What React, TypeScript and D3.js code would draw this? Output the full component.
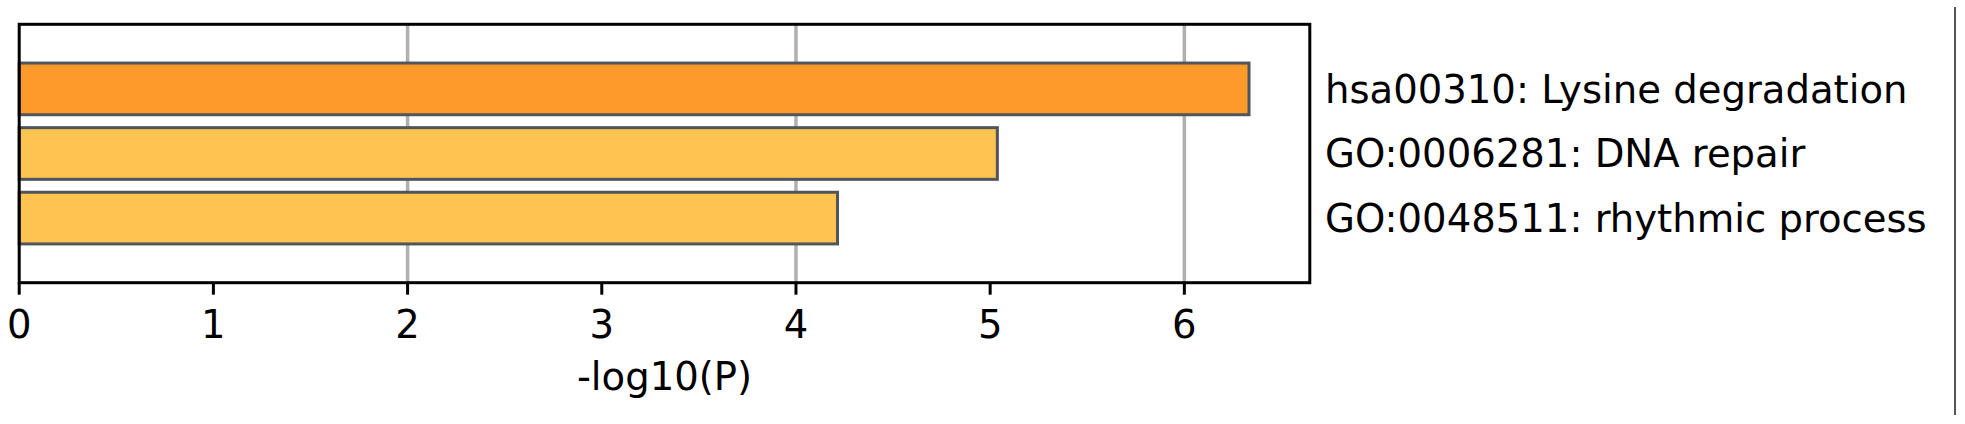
import React, { useEffect } from 'react'
import * as d3 from 'd3'

// terms, top to bottom
const terms = [
    'hsa00310: Lysine degradation',
    'GO:0006281: DNA repair',
    'GO:0048511: rhythmic process',
]
const logP = [6.333, 5.037, 4.214]
const barColors = ['#FE9A2B', '#FEC350']
const xTicks = [0, 1, 2, 3, 4, 5, 6]
const gridTicks = [2, 4, 6]

const width = 1965
const height = 424
const font = '"DejaVu Sans", Verdana, sans-serif'

export default function App() {
    useEffect(() => {
        document.body.style.margin = '0'
    }, [])

    const left = 19.2
    const right = 1309.8
    const top = 24.3
    const bottom = 282.7

    const x = d3.scaleLinear().domain([0, 6.646]).range([left, right])
    // bars sit at 1, 2, 3 on a 0..4 axis, each 0.8 tall
    const y = d3.scaleLinear().domain([0, 4]).range([top, bottom])
    const barH = y(0.8) - y(0)

    return (
        <svg width={width} height={height} style={{ display: 'block' }} fontFamily={font}>
            <rect x={0} y={0} width={width} height={height} fill="#fff" />

            {/* grid behind bars */}
            {gridTicks.map(t => (
                <line key={'g' + t} x1={x(t)} x2={x(t)} y1={top} y2={bottom}
                    stroke="#b0b0b0" strokeWidth={3.5} />
            ))}

            {logP.map((v, i) => (
                <rect key={'b' + i}
                    x={x(0)} y={y(i + 1) - barH / 2}
                    width={x(v) - x(0)} height={barH}
                    fill={i === 0 ? barColors[0] : barColors[1]}
                    stroke="#50555c" strokeWidth={3} />
            ))}

            {/* frame */}
            <rect x={left} y={top} width={right - left} height={bottom - top}
                fill="none" stroke="#000" strokeWidth={3} />

            {xTicks.map(t => (
                <g key={'t' + t}>
                    <line x1={x(t)} x2={x(t)} y1={bottom} y2={bottom + 12}
                        stroke="#000" strokeWidth={3} />
                    <text x={x(t)} y={338} textAnchor="middle" fontSize={38.6} fill="#000">{t}</text>
                </g>
            ))}

            <text x={(left + right) / 2} y={390} textAnchor="middle" fontSize={38.6} fill="#000">-log10(P)</text>

            {terms.map((s, i) => (
                <text key={'l' + i} x={1325} y={y(i + 1)} dy="0.36em" fontSize={38.6} fill="#000">{s}</text>
            ))}

            <line x1={1955} x2={1955} y1={7} y2={415} stroke="#555" strokeWidth={2} />
        </svg>
    )
}
